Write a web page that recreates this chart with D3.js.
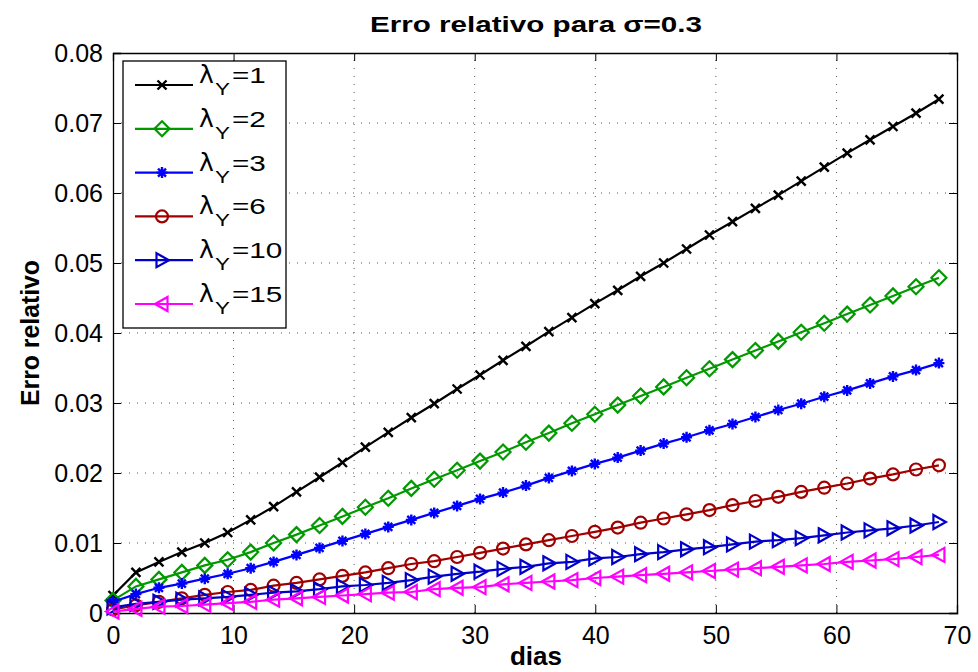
<!DOCTYPE html>
<html><head><meta charset="utf-8">
<script src="https://cdn.jsdelivr.net/npm/d3@7"></script>
<style>body{margin:0;background:#fff}svg{display:block}</style>
</head><body>
<svg id="c" width="978" height="672"></svg>
<script>
const days = [0, 1.9, 3.81, 5.71, 7.61, 9.51, 11.42, 13.32, 15.22, 17.13, 19.03, 20.93, 22.83, 24.74, 26.64, 28.54, 30.44, 32.35, 34.25, 36.15, 38.06, 39.96, 41.86, 43.76, 45.67, 47.57, 49.47, 51.38, 53.28, 55.18, 57.08, 58.99, 60.89, 62.79, 64.69, 66.6, 68.5];
const lambda1 = [0.0025,0.0058,0.0073,0.0087,0.0100,0.0115,0.0133,0.0152,0.0173,0.0194,0.0215,0.0237,0.0258,0.0279,0.0299,0.0320,0.0340,0.0361,0.0381,0.0402,0.0422,0.0442,0.0461,0.0481,0.0500,0.0520,0.0540,0.0559,0.0578,0.0597,0.0617,0.0637,0.0657,0.0676,0.0695,0.0714,0.0734];
const lambda2 = [0.0018,0.0038,0.0048,0.0058,0.0068,0.0076,0.0087,0.0100,0.0112,0.0125,0.0138,0.0151,0.0164,0.0178,0.0191,0.0204,0.0217,0.0230,0.0244,0.0257,0.0271,0.0284,0.0297,0.0310,0.0323,0.0336,0.0349,0.0362,0.0375,0.0388,0.0401,0.0414,0.0427,0.0440,0.0453,0.0466,0.0479];
const lambda3 = [0.0016,0.0027,0.0036,0.0042,0.0049,0.0056,0.0064,0.0073,0.0083,0.0093,0.0103,0.0113,0.0123,0.0133,0.0143,0.0153,0.0163,0.0172,0.0182,0.0193,0.0203,0.0213,0.0222,0.0232,0.0242,0.0251,0.0261,0.0270,0.0280,0.0290,0.0299,0.0309,0.0318,0.0328,0.0338,0.0347,0.0357];
const lambda6 = [0.0005,0.0011,0.0016,0.0021,0.0026,0.0030,0.0033,0.0039,0.0043,0.0048,0.0053,0.0058,0.0064,0.0070,0.0074,0.0080,0.0086,0.0092,0.0098,0.0104,0.0110,0.0116,0.0122,0.0129,0.0135,0.0141,0.0147,0.0154,0.0160,0.0166,0.0173,0.0179,0.0185,0.0192,0.0198,0.0205,0.0211];
const lambda10 = [0.0008,0.0013,0.0016,0.0019,0.0021,0.0023,0.0026,0.0029,0.0031,0.0034,0.0038,0.0040,0.0043,0.0047,0.0052,0.0056,0.0059,0.0063,0.0066,0.0071,0.0073,0.0078,0.0080,0.0084,0.0087,0.0091,0.0094,0.0098,0.0102,0.0104,0.0107,0.0111,0.0115,0.0118,0.0121,0.0125,0.0130];
const lambda15 = [0.0002,0.0006,0.0009,0.0010,0.0012,0.0014,0.0016,0.0019,0.0021,0.0023,0.0025,0.0027,0.0029,0.0030,0.0034,0.0036,0.0037,0.0041,0.0043,0.0045,0.0047,0.0050,0.0052,0.0054,0.0056,0.0058,0.0060,0.0062,0.0064,0.0066,0.0068,0.0070,0.0073,0.0075,0.0077,0.0080,0.0083];
const seriesNames = ["1","2","3","6","10","15"];
const xTicks = [0,10,20,30,40,50,60,70];
const yTicks = [0,0.01,0.02,0.03,0.04,0.05,0.06,0.07,0.08];

const series = [
  {name:"1", values:lambda1, color:"#000000", marker:"x"},
  {name:"2", values:lambda2, color:"#009900", marker:"diamond"},
  {name:"3", values:lambda3, color:"#0000ff", marker:"star"},
  {name:"6", values:lambda6, color:"#a00000", marker:"circle"},
  {name:"10", values:lambda10, color:"#0000c8", marker:"right"},
  {name:"15", values:lambda15, color:"#ff00ff", marker:"left"}
];

const L=113, R=957, T=53, B=613;
const x = d3.scaleLinear().domain([0,70]).range([L,R]);
const y = d3.scaleLinear().domain([0,0.08]).range([B,T]);
const svg = d3.select("#c");
const font = "'Liberation Sans', Arial, sans-serif";

// grid
const g = svg.append("g");
g.selectAll(".gx").data(xTicks.slice(1,-1)).enter().append("line")
  .attr("x1",d=>x(d)).attr("x2",d=>x(d)).attr("y1",B).attr("y2",T)
  .attr("stroke","#555").attr("stroke-width",1).attr("stroke-dasharray","1,7");
g.selectAll(".gy").data(yTicks.slice(1,-1)).enter().append("line")
  .attr("y1",d=>y(d)).attr("y2",d=>y(d)).attr("x1",L).attr("x2",R)
  .attr("stroke","#555").attr("stroke-width",1).attr("stroke-dasharray","1,7");

// axes
const ax = svg.append("g").attr("transform",`translate(0,${B})`)
  .call(d3.axisBottom(x).tickValues(xTicks).tickSize(-8).tickPadding(13).tickFormat(d3.format("d")));
const axT = svg.append("g").attr("transform",`translate(0,${T})`)
  .call(d3.axisTop(x).tickValues(xTicks).tickSize(-8).tickFormat(""));
const ay = svg.append("g").attr("transform",`translate(${L},0)`)
  .call(d3.axisLeft(y).tickValues(yTicks).tickSize(-8).tickPadding(10).tickFormat(d=>d===0?"0":d3.format(".2f")(d)));
const ayR = svg.append("g").attr("transform",`translate(${R},0)`)
  .call(d3.axisRight(y).tickValues(yTicks).tickSize(-8).tickFormat(""));
[ax,axT,ay,ayR].forEach(a=>{
  a.select(".domain").attr("stroke","#000").attr("stroke-width",1.3);
  a.selectAll(".tick line").attr("stroke","#000").attr("stroke-width",1);
  a.selectAll("text").attr("font-family",font).attr("font-size",25).attr("fill","#000");
});
ax.selectAll("text").attr("dy","0.71em");

// markers
function drawMarker(sel, type, color){
  if(type==="x"){
    sel.append("path").attr("d","M-4.5,-4.5L4.5,4.5M-4.5,4.5L4.5,-4.5").attr("stroke",color).attr("stroke-width",2.4).attr("fill","none");
  } else if(type==="star"){
    sel.append("path").attr("d","M-5.5,0L5.5,0M0,-5.5L0,5.5M-4,-4L4,4M-4,4L4,-4").attr("stroke",color).attr("stroke-width",2.4).attr("fill","none");
  } else if(type==="diamond"){
    sel.append("path").attr("d","M0,-7.5L7.5,0L0,7.5L-7.5,0Z").attr("stroke",color).attr("stroke-width",2.2).attr("fill","none");
  } else if(type==="circle"){
    sel.append("circle").attr("r",6).attr("stroke",color).attr("stroke-width",2.2).attr("fill","none");
  } else if(type==="right"){
    sel.append("path").attr("d","M-5.5,-7L7,0L-5.5,7Z").attr("stroke",color).attr("stroke-width",2.2).attr("fill","none");
  } else if(type==="left"){
    sel.append("path").attr("d","M5.5,-7L-7,0L5.5,7Z").attr("stroke",color).attr("stroke-width",2.2).attr("fill","none");
  }
}

const line = d3.line().x(d=>x(d[0])).y(d=>y(d[1]));
series.forEach(s=>{
  const pts = days.map((d,i)=>[d,s.values[i]]);
  svg.append("path").datum(pts).attr("d",line).attr("fill","none").attr("stroke",s.color).attr("stroke-width",2.2);
  svg.append("g").selectAll("g").data(pts).enter().append("g")
    .attr("transform",d=>`translate(${x(d[0])},${y(d[1])})`)
    .each(function(){ drawMarker(d3.select(this), s.marker, s.color); });
});

// legend
const lg = svg.append("g");
lg.append("rect").attr("x",123).attr("y",61).attr("width",163).attr("height",267)
  .attr("fill","#fff").attr("stroke","#000").attr("stroke-width",1.3);
series.forEach((s,i)=>{
  const ly = 85 + i*43.8;
  lg.append("line").attr("x1",135).attr("x2",193).attr("y1",ly).attr("y2",ly).attr("stroke",s.color).attr("stroke-width",2.2);
  const mg = lg.append("g").attr("transform",`translate(162,${ly})`);
  drawMarker(mg, s.marker, s.color);
  lg.append("text").attr("x",199).attr("y",ly-2).attr("font-family","'DejaVu Sans', sans-serif").attr("font-size",25).attr("fill","#000").text("λ");
  lg.append("text").attr("transform",`translate(215,${ly+10}) scale(1.4,1)`).attr("font-family",font).attr("font-size",16).attr("fill","#000").text("Y");
  lg.append("text").attr("transform",`translate(232,${ly-2}) scale(1.35,1)`).attr("font-family",font).attr("font-size",22).attr("fill","#000").text("=" + seriesNames[i]);
});

// titles
svg.append("text").attr("x",370).attr("y",32).attr("textLength",332).attr("lengthAdjust","spacingAndGlyphs")
  .attr("font-family",font).attr("font-weight","bold").attr("font-size",22).text("Erro relativo para σ=0.3");
svg.append("text").attr("x",536).attr("y",665).attr("text-anchor","middle")
  .attr("font-family",font).attr("font-weight","bold").attr("font-size",26).text("dias");
svg.append("text").attr("transform","translate(39,333) rotate(-90)").attr("text-anchor","middle")
  .attr("textLength",146).attr("lengthAdjust","spacingAndGlyphs")
  .attr("font-family",font).attr("font-weight","bold").attr("font-size",25).text("Erro relativo");
</script>
</body></html>
